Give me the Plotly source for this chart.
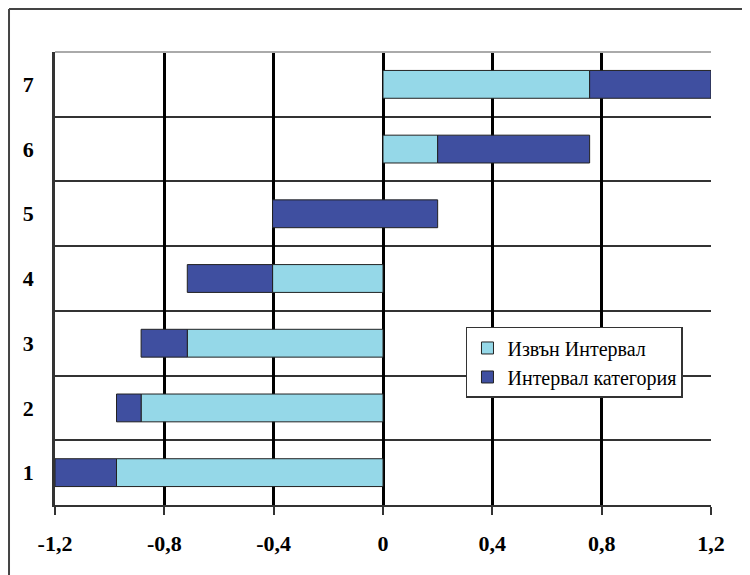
import plotly.graph_objects as go

categories = [1, 2, 3, 4, 5, 6, 7]
interval_start = [-1.2, -0.975, -0.885, -0.716, -0.404, 0.2, 0.756]
interval_end = [-0.975, -0.885, -0.716, -0.404, 0.2, 0.756, 1.2]
outside_value = [-0.975, -0.885, -0.716, -0.404, 0.0, 0.2, 0.756]
x_ticks = [-1.2, -0.8, -0.4, 0, 0.4, 0.8, 1.2]
x_tick_text = ["-1,2", "-0,8", "-0,4", "0", "0,4", "0,8", "1,2"]

LIGHT = "#95D8E8"
DARK = "#3F4FA0"
FONT = "'Times New Roman', 'Liberation Serif', 'DejaVu Serif', serif"

fig = go.Figure()
fig.add_trace(go.Bar(
    y=categories, x=outside_value, base=0, orientation="h",
    name="Извън Интервал", width=0.43,
    marker=dict(color=LIGHT, line=dict(color="#222222", width=1)),
))
fig.add_trace(go.Bar(
    y=categories, x=[e - s for s, e in zip(interval_start, interval_end)],
    base=interval_start, orientation="h",
    name="Интервал категория", width=0.43,
    marker=dict(color=DARK, line=dict(color="#222222", width=1)),
))

fig.update_layout(
    width=742, height=567,
    margin=dict(l=47, r=39, t=44, b=70),
    paper_bgcolor="white", plot_bgcolor="white",
    barmode="overlay",
    font=dict(family=FONT, color="black"),
    showlegend=True,
    legend=dict(
        x=0.6265, y=0.393, xanchor="left", yanchor="top",
        bgcolor="white", bordercolor="#333333", borderwidth=1.5,
        font=dict(family=FONT, size=20, color="black"),
        traceorder="normal", tracegroupgap=0, itemwidth=30,
    ),
    xaxis=dict(
        range=[-1.2, 1.2], tickvals=x_ticks, ticktext=x_tick_text,
        showgrid=True, gridcolor="black", gridwidth=2.5,
        zeroline=True, zerolinecolor="black", zerolinewidth=2.5,
        showline=True, linecolor="#333333", linewidth=2,
        ticks="outside", ticklen=8, tickwidth=1.5, tickcolor="#333333",
        tickfont=dict(family=FONT, size=22, color="black", weight="bold"),
        ticklabelstandoff=10,
    ),
    yaxis=dict(
        range=[0.5, 7.5], tickvals=categories, ticktext=[str(c) for c in categories],
        showgrid=False, zeroline=False,
        showline=True, linecolor="#333333", linewidth=2.5,
        ticks="", ticklabelstandoff=14,
        tickfont=dict(family=FONT, size=22, color="black", weight="bold"),
        minor=dict(tick0=0.5, dtick=1, showgrid=True, gridcolor="#333333", gridwidth=1.5, ticks=""),
    ),
    shapes=[
        dict(type="line", xref="paper", yref="paper", x0=0, x1=1, y0=1, y1=1,
             line=dict(color="#aaaaaa", width=2)),
        dict(type="line", xref="paper", yref="paper", x0=-0.0701, x1=1.2, y0=1.0949, y1=1.0949,
             line=dict(color="#444444", width=2)),
        dict(type="line", xref="paper", yref="paper", x0=-0.0701, x1=-0.0701, y0=-0.3, y1=1.0949,
             line=dict(color="#444444", width=2)),
    ],
)

fig.write_html("out.html")
